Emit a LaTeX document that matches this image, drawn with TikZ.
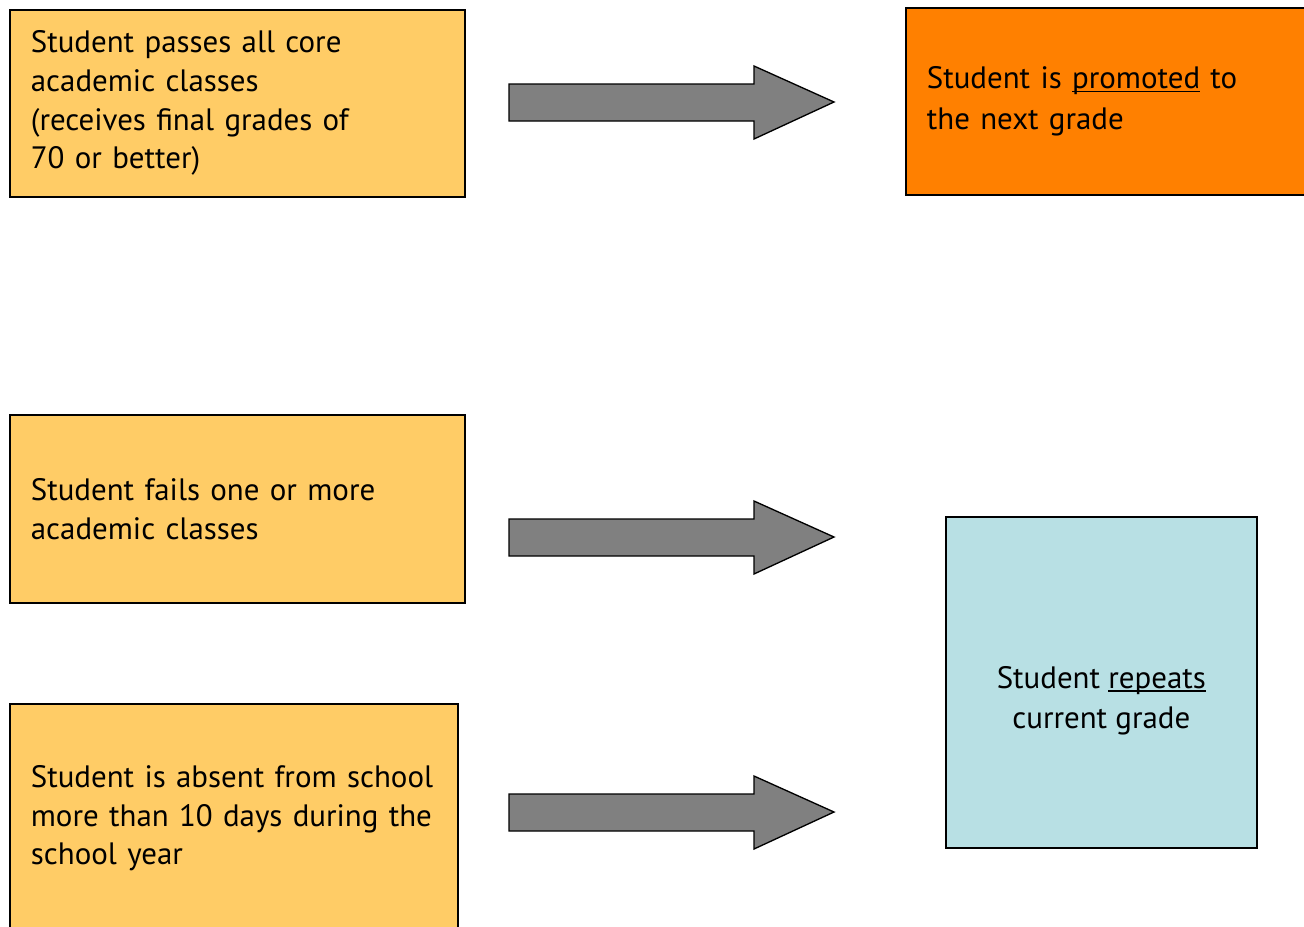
\documentclass[tikz,border=0pt]{standalone}
\usepackage{fontspec}
\setmainfont{PT Sans}
\definecolor{lightorange}{HTML}{FFCC66}
\definecolor{deeporange}{HTML}{FF8000}
\definecolor{paleblue}{HTML}{B8E0E4}
\definecolor{arrowgray}{HTML}{808080}
\newcommand\myul[1]{\setbox0\hbox{#1}\rlap{\rule[-2.6pt]{\wd0}{1pt}}\box0\relax}
\begin{document}
\begin{tikzpicture}[x=0.75pt,y=-0.75pt,
  box/.style={draw=black, line width=1.3pt, rectangle, anchor=north west,
    inner xsep=15.75pt, inner ysep=0pt, align=left,
    font=\fontsize{23.2}{29}\selectfont},
  blockarrow/.style={draw=black, line width=1pt, fill=arrowgray, line join=miter}]
\useasboundingbox (0,0) rectangle (1304,926);
\fill[white] (0,0) rectangle (1304,926);

\node[box, fill=lightorange, minimum width=341.25pt, minimum height=140.25pt,
  text width=309.75pt] (pass) at (9,9)
  {Student passes all core\\academic classes\\(receives final grades of\\70 or better)};

\node[box, fill=deeporange, minimum width=311.25pt, minimum height=140.25pt,
  text width=279.75pt, font=\fontsize{23.2}{30.5}\selectfont] (promo) at (905,7)
  {Student is \myul{promoted} to\\the next grade};

\node[box, fill=lightorange, minimum width=341.25pt, minimum height=141pt,
  text width=309.75pt] (fail) at (9,414)
  {Student fails one or more\\academic classes};

\node[box, fill=lightorange, minimum width=336pt, minimum height=171.75pt,
  text width=304.5pt] (absent) at (9,703)
  {Student is absent from school\\more than 10 days during the\\school year};

\node[box, fill=paleblue, minimum width=233.25pt, minimum height=248.25pt] (repeat) at (945,516) {};
\node[align=center, inner sep=0pt, font=\fontsize{23.2}{30}\selectfont]
  (repeattext) at ([yshift=-13.5pt]repeat.center) {Student \myul{repeats}\\current grade};

\foreach \dy/\nm in {0/a1, 435/a2, 710/a3}{
  \draw[blockarrow, shift={(0,\dy)}]
    (509,84) -- (754,84) -- (754,66) -- (834,102) -- (754,139) -- (754,121) -- (509,121) -- cycle;
}
\end{tikzpicture}
\end{document}
